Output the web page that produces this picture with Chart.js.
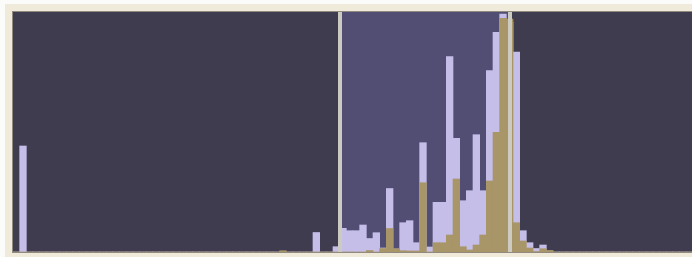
<!DOCTYPE html>
<html>
<head>
<meta charset="utf-8">
<script src="https://cdn.jsdelivr.net/npm/chart.js@4"></script>
<style>
html,body{margin:0;padding:0;overflow:hidden;background:#fbfbfa}
#histChart{position:absolute;left:0;top:0}
</style>
</head>
<body>
<canvas id="histChart" width="693" height="257"></canvas>
<script>
// ── DATA — 102 histogram bins, counts ────────────────────────────────────────
const BINS = Array.from({length:102},(_,i)=>String(i));
// lavender series (all events), bins 0..101
const ALL_COUNTS = [
  0,106,0,0,0,0,0,0,0,0,          // 0-9
  0,0,0,0,0,0,0,0,0,0,            // 10-19
  0,0,0,0,0,0,0,0,0,0,            // 20-29
  0,0,0,0,0,0,0,0,0,0,            // 30-39
  0,0,0,0,0,19.5,0,0,5.3,23.7,    // 40-49
  21.3,21.3,27,13.5,19.3,4,63.5,3,29.3,31.3,        // 50-59
  9.3,109.3,5,49.7,49.7,195.3,113.7,51.3,61.3,117.3,// 60-69
  61.3,181.3,219.7,238,230,200,21.3,9.3,3.5,7,      // 70-79
  1,0,0,0,0,0,0,0,0,0,            // 80-89
  0,0,0,0,0,0,0,0,0,0,            // 90-99
  0,0                             // 100-101
];
// tan series (selected events), bins 0..101
const SEL_COUNTS = [
  0,0,0,0,0,0,0,0,0,0,
  0,0,0,0,0,0,0,0,0,0,
  0,0,0,0,0,0,0,0,0,0,
  0,0,0,0,0,0,0,0,0,0,
  1.3,0,0,0,0,0,0,0,0,0,
  0,0,0,1.5,0,3.5,23.5,3.3,1.3,1,
  1,69.3,0,9.3,9.3,17,73,5.3,2,7,
  17,71,119.7,233.7,233,29.3,11,4,0.5,3.3,
  1.5,0,0,0,0,0,0,0,0,0,
  0,0,0,0,0,0,0,0,0,0,
  0,0
];
// selected range, in bin units (edge positions)
const RANGE = [49.05, 74.55];
const Y_MAX = 240;

const BG='#403c4f', SEL_BG='#524e73', LAV='#c5bee9', TAN='#a89669', EDGE='#cdcac2', FRAME='#f0eada';

// ── frame, plot background, selection band and edge lines ────────────────────
const framePlugin={
  id:'frame',
  beforeDraw(c){
    const ctx=c.ctx, a=c.chartArea, x=c.scales.x;
    ctx.save();
    ctx.fillStyle='#fbfbfa';ctx.fillRect(0,0,c.width,c.height);
    ctx.fillStyle=FRAME;ctx.fillRect(5,4,c.width-5,c.height-4);
    ctx.fillStyle=BG;ctx.fillRect(a.left,a.top,a.right-a.left,a.bottom-a.top);
    const x0=x.getPixelForValue(RANGE[0]-0.5), x1=x.getPixelForValue(RANGE[1]-0.5);
    ctx.fillStyle=SEL_BG;ctx.fillRect(x0,a.top,x1-x0,a.bottom-a.top);
    ctx.restore();
  },
  afterDatasetsDraw(c){
    const ctx=c.ctx, a=c.chartArea, x=c.scales.x;
    ctx.save();
    ctx.strokeStyle=EDGE;ctx.lineWidth=4;
    RANGE.forEach(r=>{
      const px=Math.round(x.getPixelForValue(r-0.5));
      ctx.beginPath();ctx.moveTo(px,a.top);ctx.lineTo(px,a.bottom);ctx.stroke();
    });
    ctx.strokeStyle='rgba(120,114,104,.8)';ctx.lineWidth=1;
    ctx.strokeRect(a.left-0.5,a.top-0.5,a.right-a.left+1,a.bottom-a.top+1);
    ctx.restore();
  }
};

new Chart(document.getElementById('histChart'),{
  type:'bar',
  data:{labels:BINS,datasets:[
    {label:'Selected',data:SEL_COUNTS,backgroundColor:TAN,order:1,grouped:false,barPercentage:1,categoryPercentage:1,borderWidth:0},
    {label:'All',data:ALL_COUNTS,backgroundColor:LAV,order:2,grouped:false,barPercentage:1,categoryPercentage:1,borderWidth:0}
  ]},
  options:{
    responsive:false,animation:false,
    layout:{padding:{left:13,top:12,right:0,bottom:5}},
    plugins:{legend:{display:false},tooltip:{enabled:false}},
    scales:{
      x:{display:false,grid:{display:false}},
      y:{display:false,min:0,max:Y_MAX,grid:{display:false}}
    }
  },
  plugins:[framePlugin]
});
</script>
</body>
</html>
